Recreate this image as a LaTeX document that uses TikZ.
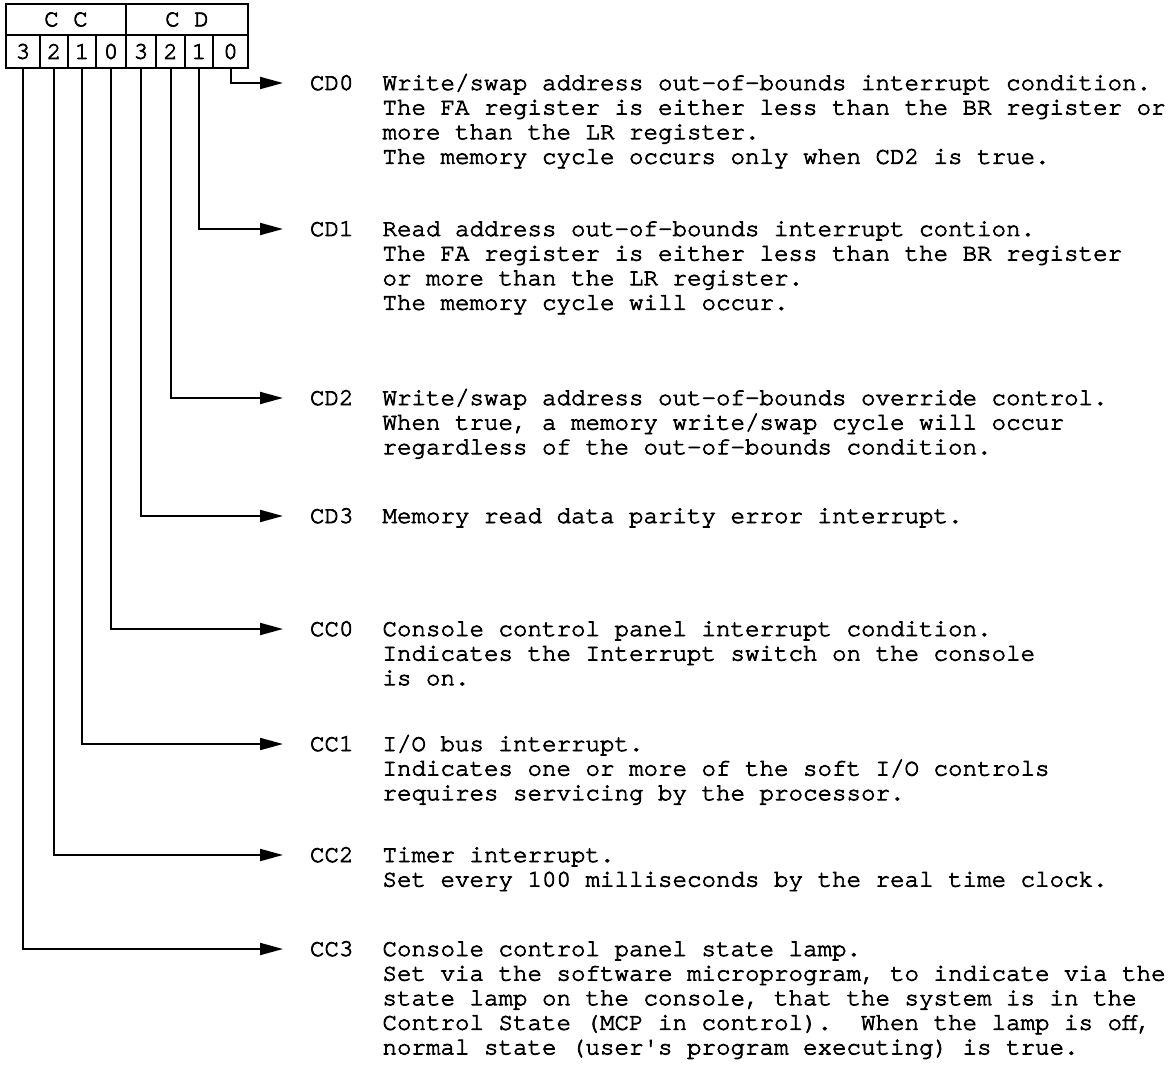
\documentclass[tikz,border=0pt]{standalone}
\usepackage{fontspec}
\usetikzlibrary{arrows.meta}
\newfontfamily\tw{texgyrecursor-regular.otf}[FakeBold=3]
\begin{document}
\begin{tikzpicture}[x=1pt,y=-1pt,
  every node/.style={inner sep=0pt, outer sep=0pt},
  tfont/.style={font={\tw\fontsize{24.17}{24.6}\selectfont}},
  cell/.style={draw, line width=2pt, tfont, anchor=center},
  lbl/.style={tfont, anchor=base west},
  desc/.style={tfont, anchor=base west},
  conn/.style={line width=2pt, -{Triangle[length=23pt,width=12pt]}}]
\useasboundingbox (0,0) rectangle (1173,1078);
\fill[white] (0,0) rectangle (1173,1078);
% header
\node[cell, minimum width=120pt, minimum height=31pt] (cc) at (66,19.5) {C C};
\node[cell, minimum width=122pt, minimum height=31pt] (cd) at (187,19.5) {C D};
% bit cells
\node[cell, minimum width=34pt, minimum height=33pt] (c3) at (23,51.5) {3};
\node[cell, minimum width=28pt, minimum height=33pt] (c2) at (54,51.5) {2};
\node[cell, minimum width=28pt, minimum height=33pt] (c1) at (82,51.5) {1};
\node[cell, minimum width=30pt, minimum height=33pt] (c0) at (111,51.5) {0};
\node[cell, minimum width=30pt, minimum height=33pt] (d3) at (141,51.5) {3};
\node[cell, minimum width=29pt, minimum height=33pt] (d2) at (170.5,51.5) {2};
\node[cell, minimum width=28pt, minimum height=33pt] (d1) at (199,51.5) {1};
\node[cell, minimum width=35pt, minimum height=33pt] (d0) at (230.5,51.5) {0};
% arrow tips
\coordinate (tcd0) at (283,83);
\coordinate (tcd1) at (283,229);
\coordinate (tcd2) at (283,398);
\coordinate (tcd3) at (283,516);
\coordinate (tcc0) at (283,629);
\coordinate (tcc1) at (283,744);
\coordinate (tcc2) at (283,855);
\coordinate (tcc3) at (283,949);
% labels
\node[lbl] (lcd0) at (310,90) {CD0};
\node[lbl] (lcd1) at (310,236) {CD1};
\node[lbl] (lcd2) at (310,405) {CD2};
\node[lbl] (lcd3) at (310,523) {CD3};
\node[lbl] (lcc0) at (310,636) {CC0};
\node[lbl] (lcc1) at (310,751) {CC1};
\node[lbl] (lcc2) at (310,862) {CC2};
\node[lbl] (lcc3) at (310,956) {CC3};
% descriptions
\node[desc] (dcd0) at (382.5,90) {\begin{tabular}[t]{@{}l@{}}
Write/swap address out-of-bounds interrupt condition.\\
The FA register is either less than the BR register or\\
more than the LR register.\\
The memory cycle occurs only when CD2 is true.\end{tabular}};
\node[desc] (dcd1) at (382.5,236) {\begin{tabular}[t]{@{}l@{}}
Read address out-of-bounds interrupt contion.\\
The FA register is either less than the BR register\\
or more than the LR register.\\
The memory cycle will occur.\end{tabular}};
\node[desc] (dcd2) at (382.5,405) {\begin{tabular}[t]{@{}l@{}}
Write/swap address out-of-bounds override control.\\
When true, a memory write/swap cycle will occur\\
regardless of the out-of-bounds condition.\end{tabular}};
\node[desc] (dcd3) at (382.5,523) {Memory read data parity error interrupt.};
\node[desc] (dcc0) at (382.5,636) {\begin{tabular}[t]{@{}l@{}}
Console control panel interrupt condition.\\
Indicates the Interrupt switch on the console\\
is on.\end{tabular}};
\node[desc] (dcc1) at (382.5,751) {\begin{tabular}[t]{@{}l@{}}
I/O bus interrupt.\\
Indicates one or more of the soft I/O controls\\
requires servicing by the processor.\end{tabular}};
\node[desc] (dcc2) at (382.5,862) {\begin{tabular}[t]{@{}l@{}}
Timer interrupt.\\
Set every 100 milliseconds by the real time clock.\end{tabular}};
\node[desc] (dcc3) at (382.5,956) {\begin{tabular}[t]{@{}l@{}}
Console control panel state lamp.\\
Set via the software microprogram, to indicate via the\\
state lamp on the console, that the system is in the\\
Control State (MCP in control).~~When the lamp is off,\\
normal state (user's program executing) is true.\end{tabular}};
% connectors
\draw[conn] (d0.south) |- (tcd0);
\draw[conn] (d1.south) |- (tcd1);
\draw[conn] (d2.south) |- (tcd2);
\draw[conn] (d3.south) |- (tcd3);
\draw[conn] (c0.south) |- (tcc0);
\draw[conn] (c1.south) |- (tcc1);
\draw[conn] (c2.south) |- (tcc2);
\draw[conn] (c3.south) |- (tcc3);
\end{tikzpicture}
\end{document}
